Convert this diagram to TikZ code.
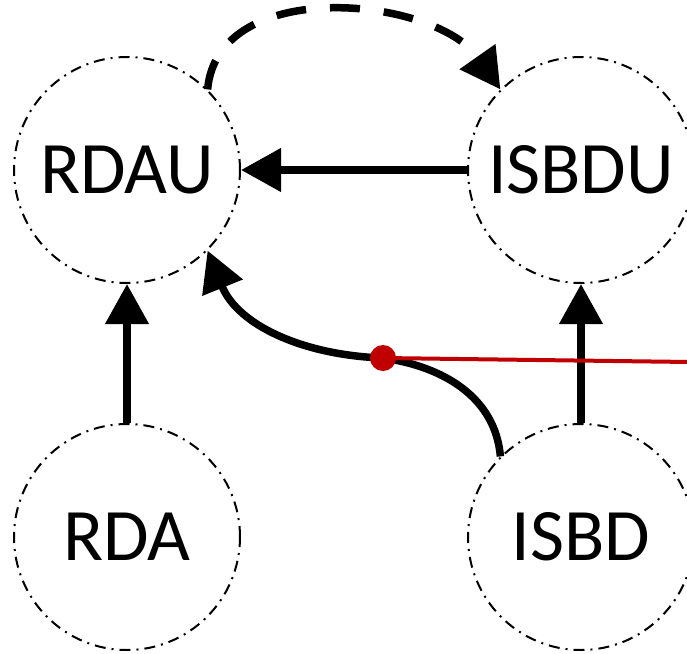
\documentclass[tikz,border=0pt]{standalone}
\usepackage{fontspec}
\setmainfont{Carlito}
\usetikzlibrary{arrows.meta}
\definecolor{darkred}{HTML}{C00000}
\begin{document}
\begin{tikzpicture}[x=1pt,y=-1pt,
  unit/.style={circle,draw,line width=2pt,minimum size=226pt,inner sep=0pt,
    dash pattern=on 11pt off 6pt on 2pt off 6pt,font=\fontsize{74}{74}\selectfont},
  link/.style={line width=7.5pt,-{Triangle[length=40pt,width=42pt]}}]
\useasboundingbox (0,0) rectangle (687,653);
\node[unit] (rdau) at (127,170) {RDAU};
\node[unit] (isbdu) at (581,170) {ISBDU};
\node[unit] (rda) at (127,537) {RDA};
\node[unit] (isbd) at (581,537) {ISBD};
\coordinate (m) at (383,358);
\coordinate (r) at (690,362);
\draw[link] (rda) -- (rdau);
\draw[link] (isbd) -- (isbdu);
\draw[link] (isbdu) -- (rdau);
\draw[link,dash pattern=on 30pt off 24pt] (rdau.45) to[out=85,in=125] (isbdu.135);
\draw[link] (isbd.135) to[out=95,in=-8] (m) to[out=178,in=-68] (rdau.-45);
\draw[darkred,line width=4pt] (m) -- (r);
\node[circle,fill=darkred,minimum size=26pt,inner sep=0pt] (dot) at (m) {};
\end{tikzpicture}
\end{document}
